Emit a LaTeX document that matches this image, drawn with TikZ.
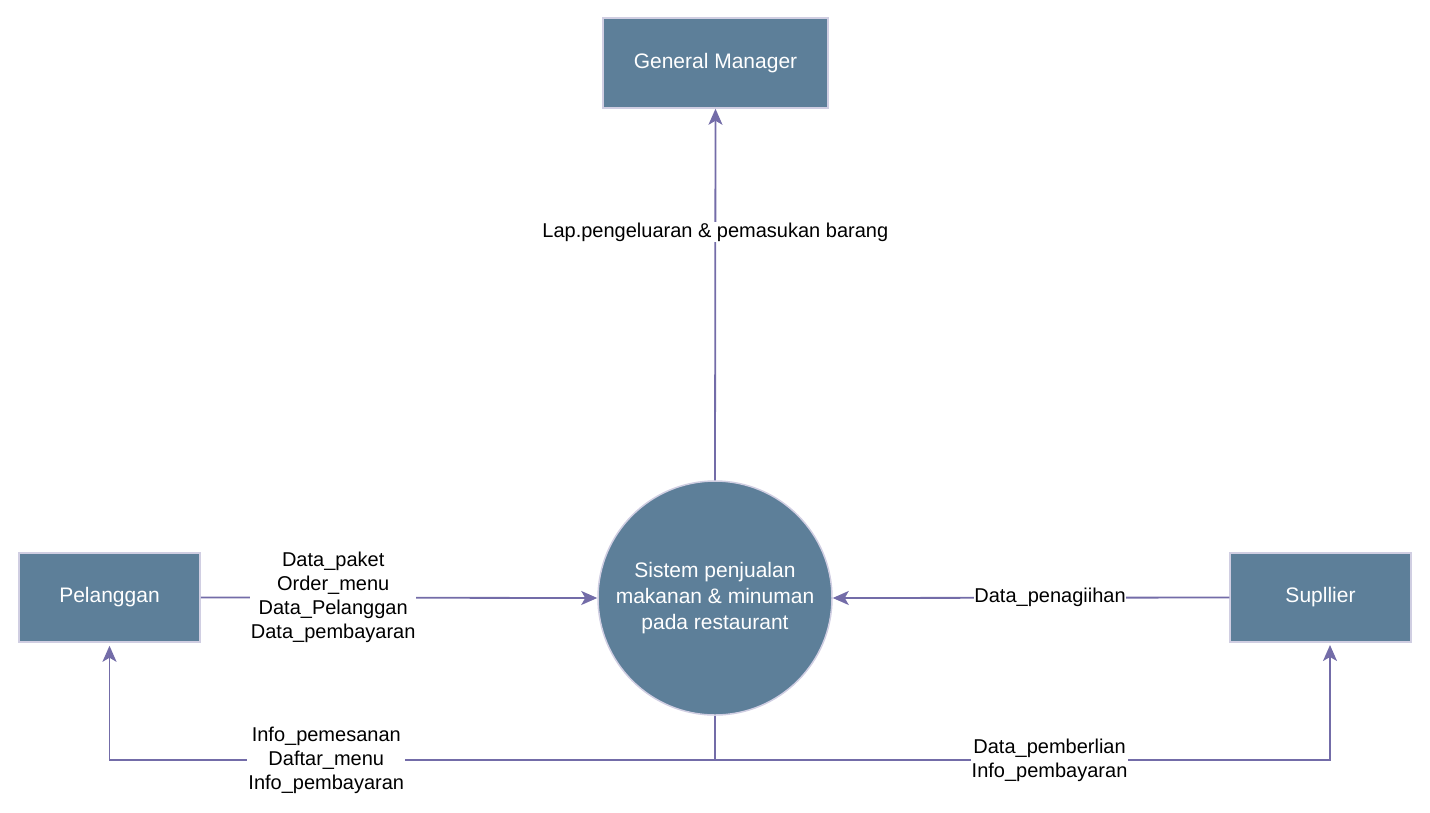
\documentclass[tikz,border=0pt]{standalone}
\usepackage{fontspec}
\setmainfont{Liberation Sans}
\usetikzlibrary{arrows.meta}
\definecolor{boxfill}{HTML}{5D7F99}
\definecolor{boxline}{HTML}{D0CEE2}
\definecolor{flow}{HTML}{736CA8}
\tikzset{
  entity/.style={draw=boxline, line width=1.5pt, fill=boxfill, text=white, inner sep=0pt,
    minimum width=181pt, minimum height=89pt, font=\fontsize{21}{25.5}\selectfont},
  proc/.style={circle, draw=boxline, line width=1.5pt, fill=boxfill, text=white, inner sep=0pt,
    minimum size=234pt, align=center, font=\fontsize{21}{26}\selectfont},
  conn/.style={draw=flow, line width=1.8pt, -{Stealth[length=16pt, width=14pt, inset=4pt]}},
  lbl/.style={fill=white, inner sep=1pt, align=center, text=black, font=\fontsize{20}{24}\selectfont}
}
\begin{document}
\begin{tikzpicture}[x=1pt, y=-1pt]
\useasboundingbox (0,0) rectangle (1430,812);
\node[entity, minimum width=225pt, minimum height=90pt] (g) at (715.5,63) {General Manager};
\node[entity] (p) at (109.5,597.5) {Pelanggan};
\node[entity] (s) at (1320.5,597.5) {Supllier};
\node[proc] (c) at (715,598) {Sistem penjualan\\makanan \& minuman\\pada restaurant};
\coordinate (j) at (715,760);
\coordinate (sb) at (1330,642);

\draw[conn] (c.north) -- node[lbl, pos=0.668] {Lap.pengeluaran \& pemasukan barang} (g.south);
\draw[conn] (p.east) -- node[lbl, pos=0.334] {Data\_paket\\Order\_menu\\Data\_Pelanggan\\Data\_pembayaran} (c.west);
\draw[conn] (s.west) -- node[lbl, pos=0.452, inner sep=0.5pt] {Data\_penagiihan} (c.east);
\draw[draw=flow, line width=1.8pt] (c.south) -- (j);
\draw[conn, shorten >=3pt] (j) -| node[lbl, pos=0.321] {Info\_pemesanan\\Daftar\_menu\\Info\_pembayaran} (p.south);
\draw[conn, shorten >=3pt] (j) -| node[lbl, pos=0.272] {Data\_pemberlian\\Info\_pembayaran} (sb);
\end{tikzpicture}
\end{document}
